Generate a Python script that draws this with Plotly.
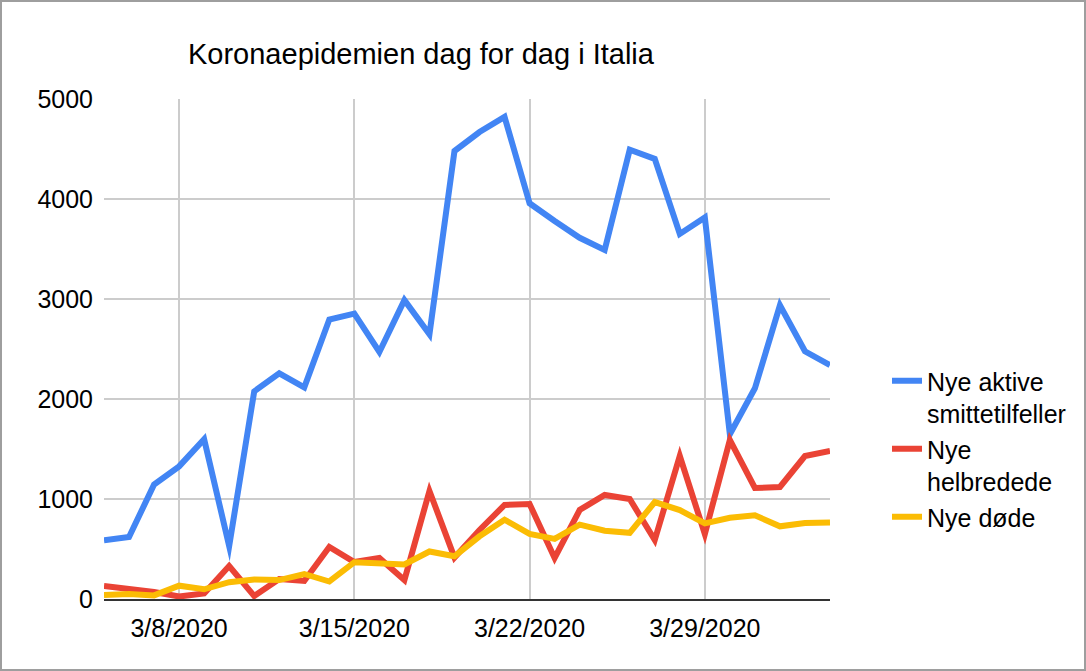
import plotly.graph_objects as go

# daily values, Italy, 3/5/2020 - 4/3/2020
dates = ['2020-03-%02d' % d for d in range(5, 32)] + ['2020-04-01', '2020-04-02', '2020-04-03']

nye_aktive = [587, 620, 1145, 1326, 1598, 529, 2076, 2256, 2116, 2795,
              2853, 2470, 2989, 2648, 4480, 4670, 4821, 3957, 3780, 3612,
              3491, 4492, 4401, 3651, 3815, 1648, 2107, 2937, 2477, 2339]
nye_helbredede = [130, 105, 70, 25, 55, 330, 30, 200, 180, 520,
                  370, 410, 190, 1080, 415, 690, 940, 950, 410, 890,
                  1040, 1000, 590, 1430, 650, 1590, 1110, 1120, 1430, 1480]
nye_dode = [41, 49, 36, 133, 97, 168, 196, 189, 250, 175,
            368, 349, 345, 475, 427, 627, 793, 651, 601, 743,
            683, 662, 969, 889, 756, 812, 837, 727, 760, 766]

tick_dates = ['2020-03-08', '2020-03-15', '2020-03-22', '2020-03-29']
tick_text = ['3/8/2020', '3/15/2020', '3/22/2020', '3/29/2020']

series = [
    ('Nye aktive<br>smittetilfeller', nye_aktive, '#4285f4'),
    ('Nye<br>helbredede', nye_helbredede, '#ea4335'),
    ('Nye døde', nye_dode, '#fbbc04'),
]

fig = go.Figure()
for name, vals, col in series:
    fig.add_trace(go.Scatter(x=dates, y=vals, name=name, mode='lines',
                             line=dict(color=col, width=6)))

fig.update_layout(
    width=1086, height=671,
    margin=dict(l=104, r=256, t=99, b=72),
    paper_bgcolor='white', plot_bgcolor='white',
    font=dict(family='Liberation Sans, Arial', size=25, color='#000000'),
    title=dict(text='Koronaepidemien dag for dag i Italia',
               font=dict(size=29, color='#000000'),
               x=0.1157, xref='paper', xanchor='left',
               y=1 - 54 / 671, yref='container', yanchor='middle'),
    legend=dict(x=1.0785, xanchor='left', y=0.482, yanchor='top',
                valign='top', itemwidth=30, font=dict(size=25),
                bgcolor='rgba(0,0,0,0)'),
    showlegend=True,
)

fig.update_xaxes(type='date', range=[dates[0], dates[-1]],
                 tickvals=tick_dates, ticktext=tick_text,
                 showgrid=True, gridcolor='#cccccc', gridwidth=2,
                 showline=True, linecolor='#333333', linewidth=2,
                 zeroline=False, ticks='', ticklabelstandoff=6)
fig.update_yaxes(range=[0, 5000], tickvals=[0, 1000, 2000, 3000, 4000, 5000],
                 showgrid=True, gridcolor='#cccccc', gridwidth=2,
                 zeroline=False, showline=False, ticks='', ticklabelstandoff=10)

# grey frame round the chart
fig.add_shape(type='rect', xref='paper', yref='paper',
              x0=(1 - 104) / 726, x1=(1085 - 104) / 726,
              y0=(599 - 670) / 500, y1=(599 - 1) / 500,
              line=dict(color='#9e9e9e', width=2), layer='below')

# no page margin, sharp corners on the lines like the sheet chart
page_js = ("document.body.style.margin='0';"
           "var s=document.createElement('style');"
           "s.textContent='.scatterlayer path.js-line{stroke-linejoin:miter !important;"
           "stroke-miterlimit:10 !important}';"
           "document.head.appendChild(s);")
fig.write_html("out.html", post_script=page_js,
               config={'displayModeBar': False})
